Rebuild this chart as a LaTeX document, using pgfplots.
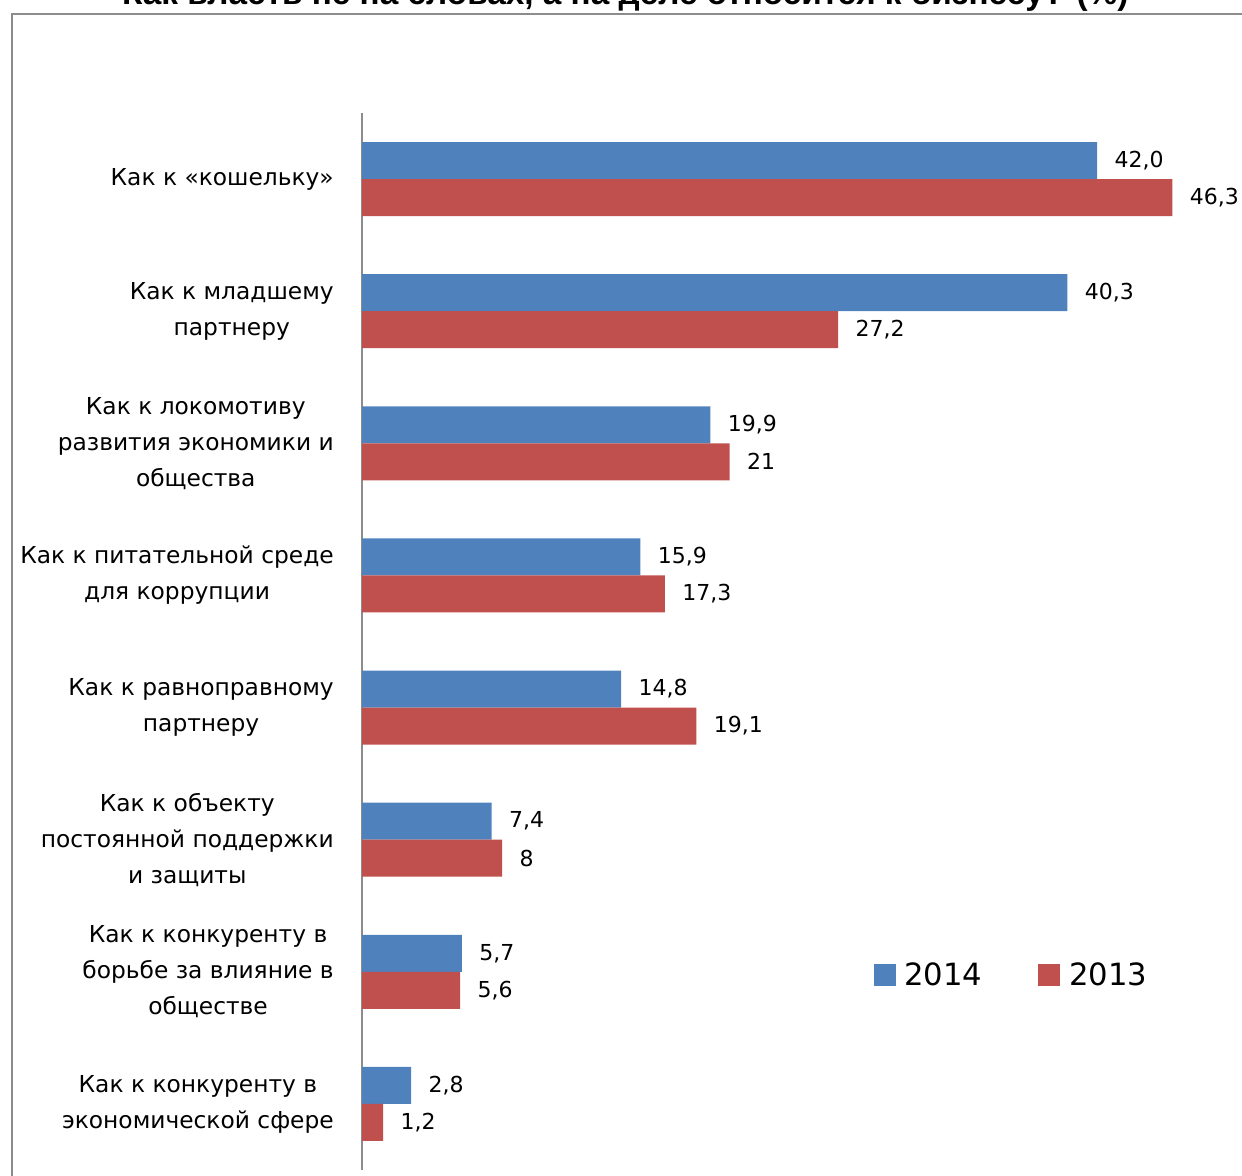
\documentclass[border=0pt]{standalone}
\usepackage{pgfplots}
\pgfplotsset{compat=1.18}
\usepackage{fontspec}
\setmainfont{DejaVu Sans}
\newfontfamily\titlefont{Liberation Sans}
\definecolor{blue14}{HTML}{4F81BD}
\definecolor{red13}{HTML}{C0504D}
\definecolor{framegray}{HTML}{8C8C8C}

\pgfplotstableread{
c v l
7 42.0 42,0
6 40.3 40,3
5 19.9 19,9
4 15.9 15,9
3 14.8 14,8
2 7.4 7,4
1 5.7 5,7
0 2.8 2,8
}\dataA

\pgfplotstableread{
c v l
7 46.3 46,3
6 27.2 27,2
5 21 21
4 17.3 17,3
3 19.1 19,1
2 8 8
1 5.6 5,6
0 1.2 1,2
}\dataB

\begin{document}
\begin{tikzpicture}
\useasboundingbox (0pt,0pt) rectangle (931.5pt,-882pt);
\clip (0pt,0pt) rectangle (931.5pt,-882pt);
\draw[framegray, line width=1.2pt] (9pt,-890pt) -- (9pt,-10.5pt) -- (940pt,-10.5pt);
\node[font=\titlefont\bfseries\fontsize{25}{28}\selectfont, anchor=base] at (469pt,-3.75pt)
  {Как власть не на словах, а на деле относится к бизнесу? (\%)};
\begin{axis}[
  at={(271.5pt,-877.5pt)}, anchor=south west,
  scale only axis, width=656.25pt, height=792.75pt,
  xbar, bar width=27.75pt,
  xmin=0, xmax=50, ymin=-0.5, ymax=7.5,
  axis x line=none, axis y line*=left,
  y axis line style={framegray, line width=1pt},
  ytick={0,...,7}, major tick length=0pt,
  yticklabels={
    {Как к конкуренту в\\экономической сфере},
    {Как к конкуренту в\\борьбе за влияние в\\обществе},
    {Как к объекту\\постоянной поддержки\\и защиты},
    {Как к равноправному\\партнеру},
    {Как к питательной среде\\для коррупции},
    {Как к локомотиву\\развития экономики и\\общества},
    {Как к младшему\\партнеру},
    {Как к «кошельку»}},
  yticklabel style={align=center, font=\fontsize{17.5}{27}\selectfont, inner sep=0pt, xshift=-21pt},
  nodes near coords, point meta=explicit symbolic,
  nodes near coords style={font=\fontsize{16.5}{20}\selectfont, anchor=west, inner sep=0pt, xshift=13pt, text=black},
  legend columns=2,
  legend style={draw=none, fill=none, at={(rel axis cs:0.58,0.1845)}, anchor=west,
    font=\fontsize{23}{28}\selectfont, /tikz/every even column/.append style={column sep=40pt}},
  legend image code/.code={\fill[#1] (0pt,-8.25pt) rectangle (16.5pt,8.25pt); \path (21pt,0pt);},
]
\addplot[fill=blue14, draw=none, bar shift=13.875pt] table[x=v, y=c, meta=l] {\dataA};
\addplot[fill=red13, draw=none, bar shift=-13.875pt] table[x=v, y=c, meta=l] {\dataB};
\legend{2014, 2013}
\end{axis}
\end{tikzpicture}
\end{document}
